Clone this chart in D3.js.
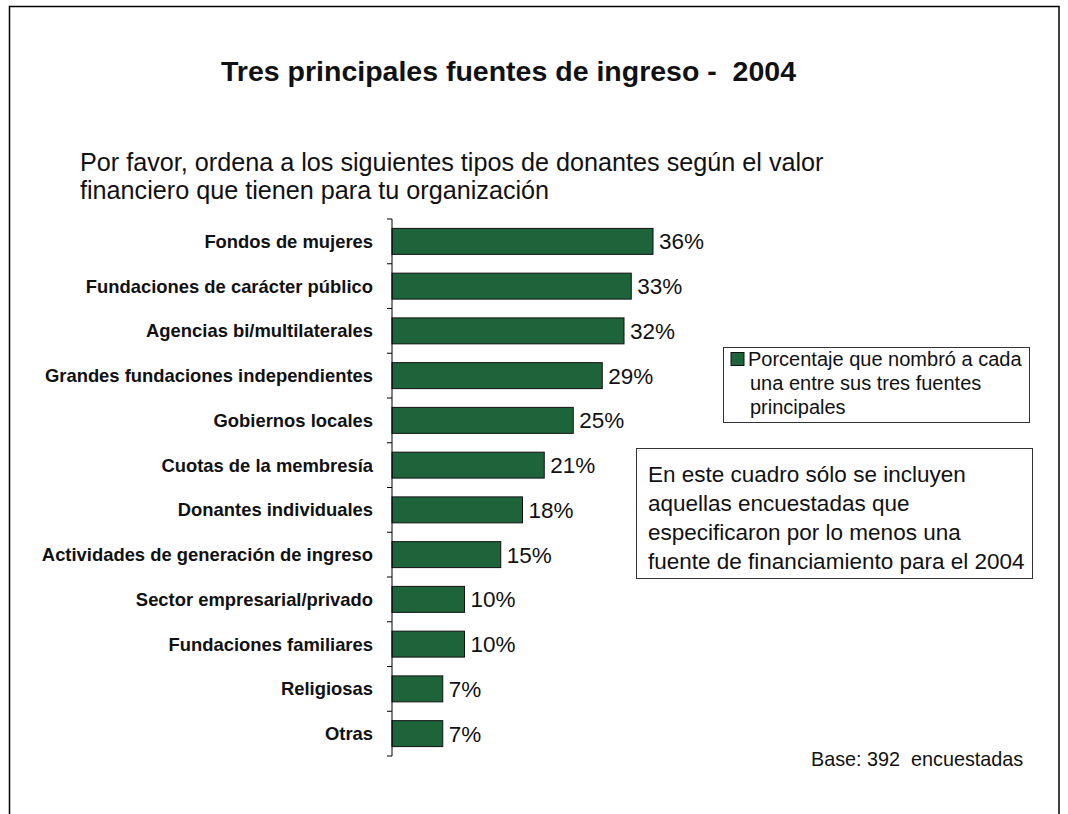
<!DOCTYPE html>
<html><head><meta charset="utf-8">
<script src="https://cdn.jsdelivr.net/npm/d3@7"></script>
<style>body{margin:0;background:#fff}svg{display:block;font-family:"Liberation Sans",Arial,sans-serif}</style>
</head><body>
<svg id="c" width="1068" height="814"></svg>
<script>
const categories = ["Fondos de mujeres","Fundaciones de carácter público","Agencias bi/multilaterales","Grandes fundaciones independientes","Gobiernos locales","Cuotas de la membresía","Donantes individuales","Actividades de generación de ingreso","Sector empresarial/privado","Fundaciones familiares","Religiosas","Otras"];
const values = [36,33,32,29,25,21,18,15,10,10,7,7];
const valueLabels = ["36%","33%","32%","29%","25%","21%","18%","15%","10%","10%","7%","7%"];
const titleText = "Tres principales fuentes de ingreso -  2004";
const subtitleLines = ["Por favor, ordena a los siguientes tipos de donantes según el valor","financiero que tienen para tu organización"];
const legendLines = ["Porcentaje que nombró a cada","una entre sus tres fuentes","principales"];
const noteLines = ["En este cuadro sólo se incluyen","aquellas encuestadas que","especificaron por lo menos una","fuente de financiamiento para el 2004"];
const baseText = "Base: 392  encuestadas";

const svg = d3.select("#c");
const green = "#1e643a";

svg.append("rect").attr("x",9.5).attr("y",6.5).attr("width",1049.5).attr("height",830)
  .attr("fill","none").attr("stroke","#000").attr("stroke-width",1.5);

svg.append("text").attr("x",508.5).attr("y",81).attr("text-anchor","middle")
  .attr("font-size",28.5).attr("font-weight","bold").attr("fill","#111")
  .attr("xml:space","preserve").style("white-space","pre").text(titleText);

svg.append("g").selectAll("text").data(subtitleLines).join("text")
  .attr("x",80).attr("y",(d,i)=>171+i*28).attr("font-size",25.2).attr("fill","#111").text(d=>d);

const y = d3.scaleBand().domain(categories).range([219,756]).paddingInner(0.42).paddingOuter(0.21);
const x = d3.scaleLinear().domain([0,40]).range([392,682]);

svg.append("g").selectAll("rect").data(values).join("rect")
  .attr("x",x(0)).attr("y",(d,i)=>y(categories[i])).attr("width",d=>x(d)-x(0)).attr("height",y.bandwidth())
  .attr("fill",green).attr("stroke","#111").attr("stroke-width",1);

const ax = svg.append("g");
ax.append("line").attr("x1",x(0)).attr("x2",x(0)).attr("y1",219).attr("y2",756).attr("stroke","#000").attr("stroke-width",1);
const bounds = categories.map(c=>y(c)-y.step()*y.paddingInner()/2).concat([756]);
ax.selectAll(".tk").data(bounds).join("line").attr("class","tk")
  .attr("x1",x(0)-5).attr("x2",x(0)).attr("y1",d=>d).attr("y2",d=>d).attr("stroke","#000");

svg.append("g").selectAll("text").data(categories).join("text")
  .attr("x",373).attr("y",c=>y(c)+y.bandwidth()/2+6.5).attr("text-anchor","end")
  .attr("font-size",18.4).attr("font-weight","bold").attr("fill","#111").text(d=>d);

svg.append("g").selectAll("text").data(values).join("text")
  .attr("x",d=>x(d)+6).attr("y",(d,i)=>y(categories[i])+y.bandwidth()/2+8)
  .attr("font-size",22.5).attr("fill","#111").text((d,i)=>valueLabels[i]);

svg.append("rect").attr("x",723.5).attr("y",347.5).attr("width",306).attr("height",75).attr("fill","#fff").attr("stroke","#333");
svg.append("rect").attr("x",731).attr("y",352.5).attr("width",13).attr("height",13).attr("fill",green).attr("stroke","#111");
svg.append("g").selectAll("text").data(legendLines).join("text")
  .attr("x",(d,i)=>i==0?748:750).attr("y",(d,i)=>366+i*24).attr("font-size",20).attr("fill","#111").text(d=>d);

svg.append("rect").attr("x",636.5).attr("y",448.5).attr("width",396).attr("height",130).attr("fill","#fff").attr("stroke","#333");
svg.append("g").selectAll("text").data(noteLines).join("text")
  .attr("x",648).attr("y",(d,i)=>482+i*29).attr("font-size",22.5).attr("fill","#111").text(d=>d);

svg.append("text").attr("x",811).attr("y",766).attr("font-size",19.8).attr("fill","#111")
  .attr("xml:space","preserve").style("white-space","pre").text(baseText);
</script>
</body></html>
